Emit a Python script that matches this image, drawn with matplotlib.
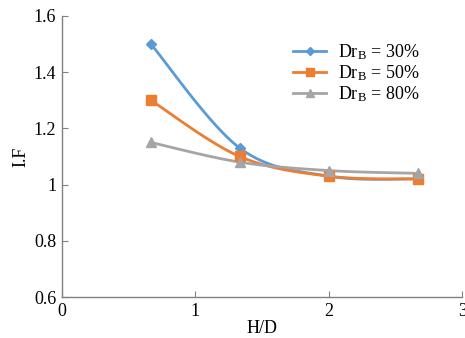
import numpy as np
import matplotlib
matplotlib.use("Agg")
import matplotlib.pyplot as plt

plt.rcParams['font.family'] = ['Liberation Serif', 'DejaVu Serif']
plt.rcParams['mathtext.fontset'] = 'custom'
plt.rcParams['mathtext.rm'] = 'Liberation Serif'
plt.rcParams['mathtext.it'] = 'Liberation Serif:italic'

hd = [0.667, 1.333, 2.0, 2.667]
if_30 = [1.50, 1.13, 1.03, 1.02]
if_50 = [1.30, 1.10, 1.03, 1.02]
if_80 = [1.15, 1.08, 1.05, 1.04]
labels = [r'Dr$_\mathrm{B}$ = 30%', r'Dr$_\mathrm{B}$ = 50%', r'Dr$_\mathrm{B}$ = 80%']
colors = ['#5B9BD5', '#ED7D31', '#A5A5A5']
markers = ['D', 's', '^']
msizes = [5, 7, 7]


def smooth(x, y, n=40):
    p = np.column_stack([x, y]).astype(float)
    m = len(p)
    out = []
    for i in range(m - 1):
        p0 = p[i - 1] if i > 0 else p[i]
        p1 = p[i]
        p2 = p[i + 1]
        p3 = p[i + 2] if i + 2 < m else p[i + 1]
        c1 = p1 + (p2 - p0) / 6.0
        c2 = p2 - (p3 - p1) / 6.0
        t = np.linspace(0, 1, n)[:, None]
        seg = ((1 - t) ** 3) * p1 + 3 * ((1 - t) ** 2) * t * c1 + 3 * (1 - t) * t ** 2 * c2 + t ** 3 * p2
        out.append(seg if i == 0 else seg[1:])
    s = np.vstack(out)
    return s[:, 0], s[:, 1]


fig = plt.figure(figsize=(4.65, 3.38), dpi=100)
ax = fig.add_axes([0.133, 0.121, 0.861, 0.832])

for y, c, mk, ms, lab in zip([if_30, if_50, if_80], colors, markers, msizes, labels):
    sx, sy = smooth(hd, y)
    ax.plot(sx, sy, color=c, lw=2, zorder=2)
    ax.plot(hd, y, linestyle='none', marker=mk, color=c, ms=ms, zorder=3)
    ax.plot([], [], color=c, lw=2, marker=mk, ms=ms * 0.75, label=lab)

ax.set_xlim(0, 3)
ax.set_ylim(0.6, 1.6)
ax.set_xticks([0, 1, 2, 3])
ax.set_xticklabels(['0', '1', '2', '3'])
ax.set_yticks([0.6, 0.8, 1.0, 1.2, 1.4, 1.6])
ax.set_yticklabels(['0.6', '0.8', '1', '1.2', '1.4', '1.6'])
ax.spines['top'].set_visible(False)
ax.spines['right'].set_visible(False)
for s in ['left', 'bottom']:
    ax.spines[s].set_color('#808080')
    ax.spines[s].set_linewidth(1.0)
ax.tick_params(direction='in', length=4, color='#808080', labelsize=13, pad=4)
ax.set_xlabel('H/D', fontsize=13, labelpad=0)
ax.set_ylabel('I.F', fontsize=13, labelpad=3)

ax.legend(loc='upper left', bbox_to_anchor=(0.5375, 0.965), frameon=False, fontsize=13,
          handlelength=1.8, handletextpad=0.7, labelspacing=0.08)

fig.savefig('out.png', dpi=100)
